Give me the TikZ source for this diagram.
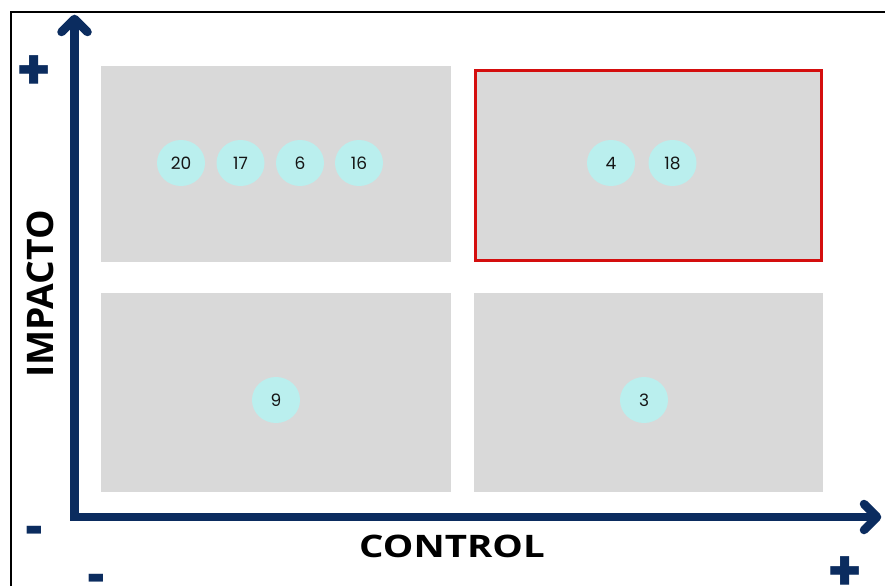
\documentclass[tikz,border=0pt]{standalone}
\usepackage{fontspec}
\setmainfont{Open Sans}
\newfontfamily\numfont{Poppins}
\newfontfamily\signfont{Poppins}
\usetikzlibrary{shapes.geometric}
\definecolor{navy}{HTML}{0B2C5F}
\definecolor{quadgray}{HTML}{D9D9D9}
\definecolor{bubblec}{HTML}{BAEFEE}
\definecolor{redline}{HTML}{D40E0E}
\definecolor{numtext}{HTML}{151515}
\begin{document}
\begin{tikzpicture}[x=1pt,y=-1pt,
  quad/.style={rectangle, fill=quadgray, draw=none, inner sep=0pt},
  bubble/.style={ellipse, fill=bubblec, draw=none, inner sep=0pt,
    minimum width=48pt, minimum height=46pt, text=numtext,
    font=\numfont\fontsize{17}{17}\selectfont},
  axisline/.style={draw=navy, line width=8.5pt},
  chevron/.style={draw=navy, line width=8.5pt, line cap=round, line join=round},
  sign/.style={text=navy, inner sep=0pt, font=\signfont\bfseries\fontsize{50}{50}\selectfont},
  axlabel/.style={text=black, inner sep=0pt, font=\bfseries\fontsize{31}{31}\selectfont}]
\useasboundingbox (0,0) rectangle (885,586);
\fill[white] (0,0) rectangle (885,586);
% frame
\coordinate (fbl) at (11,586);
\coordinate (ftl) at (11,12);
\coordinate (ftr) at (885,12);
\draw[black, line width=2pt] (fbl) -- (ftl) -- (ftr);
% quadrants
\node[quad, minimum width=350pt, minimum height=196pt] (q1) at (276,164) {};
\node[quad, draw=redline, line width=3pt, minimum width=346.5pt, minimum height=190.5pt] (q2) at (648.25,165.25) {};
\node[quad, minimum width=350pt, minimum height=199pt] (q3) at (276,392.5) {};
\node[quad, minimum width=349pt, minimum height=199pt] (q4) at (648.5,392.5) {};
% axes
\coordinate (ytip) at (74.5,19);
\coordinate (origin) at (74.5,517);
\coordinate (xtip) at (877,517);
\draw[axisline] (ytip) -- (origin) -- (xtip);
\coordinate (yl) at (61.5,32);
\coordinate (yr) at (87.5,32);
\coordinate (xu) at (864,504);
\coordinate (xd) at (864,530);
\draw[chevron] (yl) -- (ytip) -- (yr);
\draw[chevron] (xu) -- (xtip) -- (xd);
% bubbles
\node[bubble] (b20) at (181,163) {20};
\node[bubble] (b17) at (240.5,163) {17};
\node[bubble] (b6) at (300,163) {6};
\node[bubble] (b16) at (359,163) {16};
\node[bubble] (b4) at (611,163) {4};
\node[bubble] (b18) at (672.5,163) {18};
\node[bubble] (b9) at (276,400) {9};
\node[bubble] (b3) at (644,400) {3};
% labels
\node[axlabel] (xlabel) at (452,546.5) {\scalebox{1.24}[1]{CONTROL}};
\node[axlabel, rotate=90] (ylabel) at (40,294) {\scalebox{1.2}[1.18]{IMPACTO}};
% signs
\node[sign] (yplus) at (34,73) {\scalebox{1.12}{+}};
\node[sign] (yminus) at (34.5,538) {\scalebox{0.65}[1.1]{-}};
\node[sign] (xminus) at (96.5,586) {\scalebox{0.65}[1.1]{-}};
\node[sign] (xplus) at (845,574) {\scalebox{1.12}{+}};
\end{tikzpicture}
\end{document}
